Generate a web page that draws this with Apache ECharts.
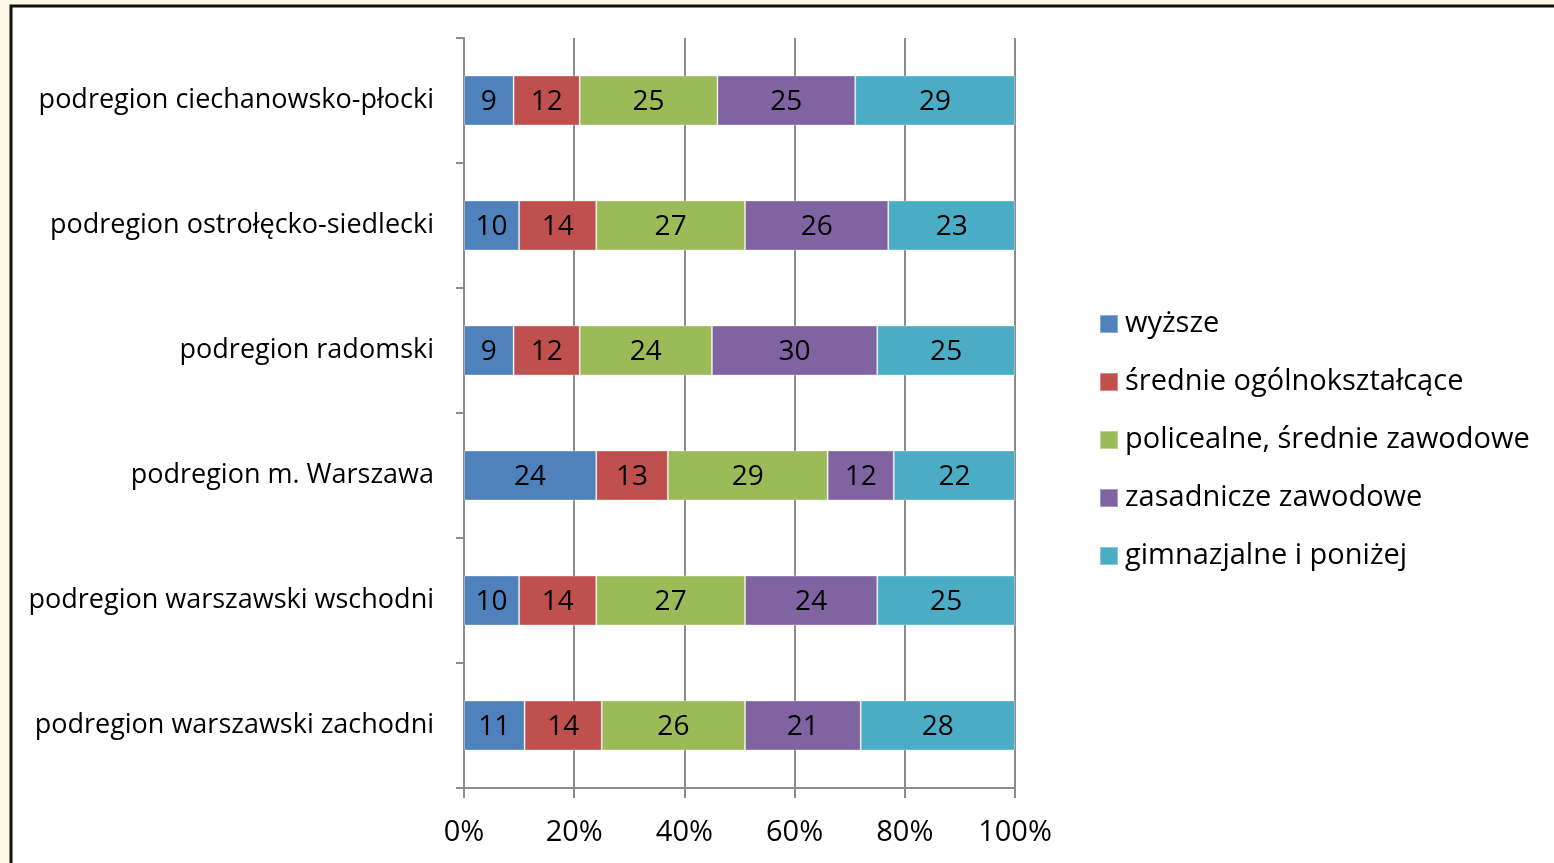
<!DOCTYPE html>
<html>
<head>
<meta charset="utf-8">
<script src="https://cdn.jsdelivr.net/npm/echarts@6/dist/echarts.min.js"></script>
<style>
  html, body { margin: 0; padding: 0; background: #FFF8E6; }
  #chart { width: 1554px; height: 863px; }
</style>
</head>
<body>
<div id="chart"></div>
<script>
// Education structure by subregion (percent)
const categories = [
  'podregion ciechanowsko-płocki',
  'podregion ostrołęcko-siedlecki',
  'podregion radomski',
  'podregion m. Warszawa',
  'podregion warszawski wschodni',
  'podregion warszawski zachodni'
];
const seriesNames = [
  'wyższe',
  'średnie ogólnokształcące',
  'policealne, średnie zawodowe',
  'zasadnicze zawodowe',
  'gimnazjalne i poniżej'
];
const wyzsze       = [9, 10, 9, 24, 10, 11];
const srednieOgol  = [12, 14, 12, 13, 14, 14];
const policealne   = [25, 27, 24, 29, 27, 26];
const zasadnicze   = [25, 26, 30, 12, 24, 21];
const gimnazjalne  = [29, 23, 25, 22, 25, 28];
const xTicks = [0, 20, 40, 60, 80, 100];

const seriesData = [wyzsze, srednieOgol, policealne, zasadnicze, gimnazjalne];
const colors = ['#4F81BD', '#C0504D', '#9BBB59', '#8064A2', '#4BACC6'];
const FONT = 'Open Sans';

const chart = echarts.init(document.getElementById('chart'));
chart.setOption({
  backgroundColor: '#FFF8E6',
  animation: false,
  textStyle: { fontFamily: FONT },
  graphic: [{
    type: 'rect',
    z: -10,
    silent: true,
    shape: { x: 11, y: 6, width: 1700, height: 1000 },
    style: { fill: '#FFFFFF', stroke: '#111111', lineWidth: 3 }
  }],
  legend: {
    orient: 'vertical',
    left: 1094,
    top: 303,
    icon: 'rect',
    itemWidth: 18,
    itemHeight: 18,
    itemGap: 26,
    data: seriesNames,
    textStyle: { fontFamily: FONT, fontSize: 29, color: '#000', lineHeight: 32, padding: [0, 0, 0, 2] }
  },
  grid: { left: 464, right: 539, top: 38, bottom: 75, containLabel: false },
  xAxis: {
    type: 'value',
    min: xTicks[0],
    max: xTicks[xTicks.length - 1],
    interval: 20,
    axisLine: { show: true, lineStyle: { color: '#8C8C8C', width: 2 } },
    axisTick: { show: true, length: 10, lineStyle: { color: '#8C8C8C', width: 2 } },
    splitLine: { show: true, lineStyle: { color: '#8C8C8C', width: 2 } },
    axisLabel: { formatter: '{value}%', fontFamily: FONT, fontSize: 29, color: '#000', margin: 30 }
  },
  yAxis: {
    type: 'category',
    inverse: true,
    data: categories,
    axisLine: { show: true, lineStyle: { color: '#8C8C8C', width: 2 } },
    axisTick: { show: true, length: 8, lineStyle: { color: '#8C8C8C', width: 2 } },
    axisLabel: { fontFamily: FONT, fontSize: 27, color: '#000', margin: 30, padding: [4, 0, 0, 0] }
  },
  series: seriesNames.map((name, i) => ({
    name: name,
    type: 'bar',
    stack: 'total',
    barWidth: 50,
    data: seriesData[i],
    itemStyle: { color: colors[i], borderColor: 'rgba(255,255,255,0.35)', borderWidth: 1 },
    label: { show: true, position: 'inside', color: '#000', fontFamily: FONT, fontSize: 28, offset: [0, 2] }
  }))
});
</script>
</body>
</html>
